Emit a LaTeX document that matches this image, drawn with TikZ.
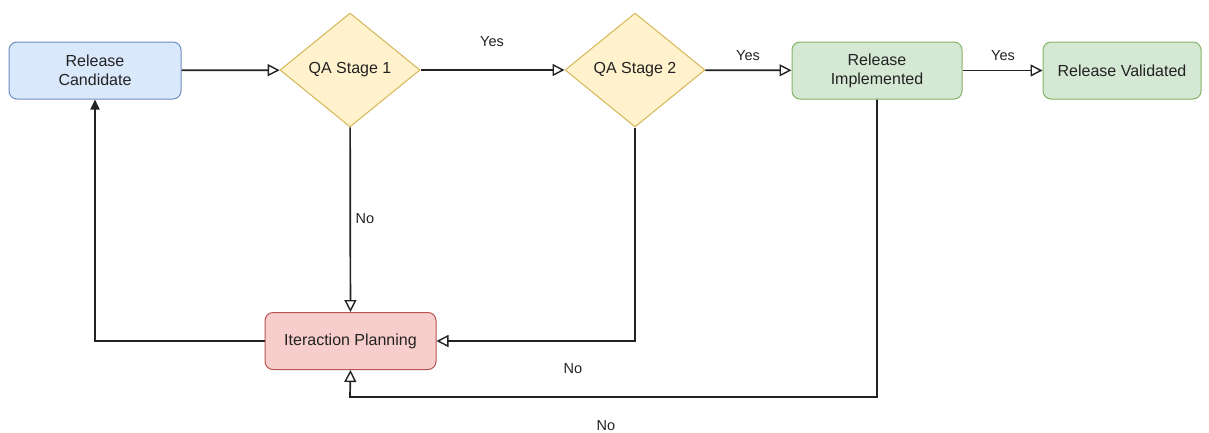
\documentclass[tikz,border=0pt]{standalone}
\usepackage{fontspec}
\setmainfont{Liberation Sans}
\usetikzlibrary{shapes.geometric,arrows.meta}
\definecolor{bluefill}{HTML}{DAE8FC}\definecolor{bluestroke}{HTML}{6C8EBF}
\definecolor{yelfill}{HTML}{FFF2CC}\definecolor{yelstroke}{HTML}{D6B656}
\definecolor{grnfill}{HTML}{D5E8D4}\definecolor{grnstroke}{HTML}{82B366}
\definecolor{redfill}{HTML}{F8CECC}\definecolor{redstroke}{HTML}{B85450}
\definecolor{ink}{HTML}{222222}
\tikzset{
  box/.style={rounded corners=8pt, line width=1pt, minimum width=#1, minimum height=57pt,
    inner sep=2pt, align=center, font=\fontsize{16}{19}\selectfont, text=ink},
  box/.default=172pt,
  decision/.style={diamond, fill=yelfill, draw=yelstroke, line width=1pt, minimum width=140pt,
    minimum height=114pt, inner sep=0pt, font=\fontsize{16}{19}\selectfont, text=ink},
  flow/.style={line width=1.7pt, draw=ink, -{Triangle[open, length=12pt, width=12pt, line width=1.4pt, fill=white]}},
  back/.style={line width=1.7pt, draw=ink, -{Triangle[length=10pt, width=9pt]}},
  lbl/.style={font=\fontsize{14.5}{17}\selectfont, text=ink, inner sep=0pt},
}
\begin{document}
\begin{tikzpicture}[x=1pt, y=-1pt]
\useasboundingbox (0,0) rectangle (1209,432);

\node[box=172pt, fill=bluefill, draw=bluestroke] (rc) at (95,70.5) {Release\\Candidate};
\node[decision] (qa1) at (350,70) {QA Stage 1};
\node[decision] (qa2) at (635,70) {QA Stage 2};
\node[box=170pt, fill=grnfill, draw=grnstroke] (ri) at (877,70.5) {Release\\Implemented};
\node[box=158pt, fill=grnfill, draw=grnstroke] (rv) at (1122,70.5) {Release Validated};
\node[box=171pt, fill=redfill, draw=redstroke] (ip) at (350.5,341) {Iteraction Planning};

\coordinate (qa2turn) at (635,341);
\coordinate (riturn) at (877,397);
\coordinate (ipturn) at (350,397);
\coordinate (rcturn) at (95,341);

\draw[flow] (rc) -- (qa1);
\draw[flow] (qa1) -- (qa2);
\draw[flow] (qa2) -- (ri);
\draw[flow] (ri) -- (rv);
\draw[flow] (qa1) -- (ip);
\draw[flow] (qa2.south) -- (qa2turn) -- (ip.east);
\draw[flow] (ri.south) -- (riturn) -- (ipturn) -- (ip.south);
\draw[back] (ip.west) -- (rcturn) -- (rc.south);

\node[lbl] (yes1) at (492,42) {Yes};
\node[lbl] (yes2) at (748,56) {Yes};
\node[lbl] (yes3) at (1003,56) {Yes};
\node[lbl] (no1) at (365,219) {No};
\node[lbl] (no2) at (573,369) {No};
\node[lbl] (no3) at (606,426) {No};
\end{tikzpicture}
\end{document}
